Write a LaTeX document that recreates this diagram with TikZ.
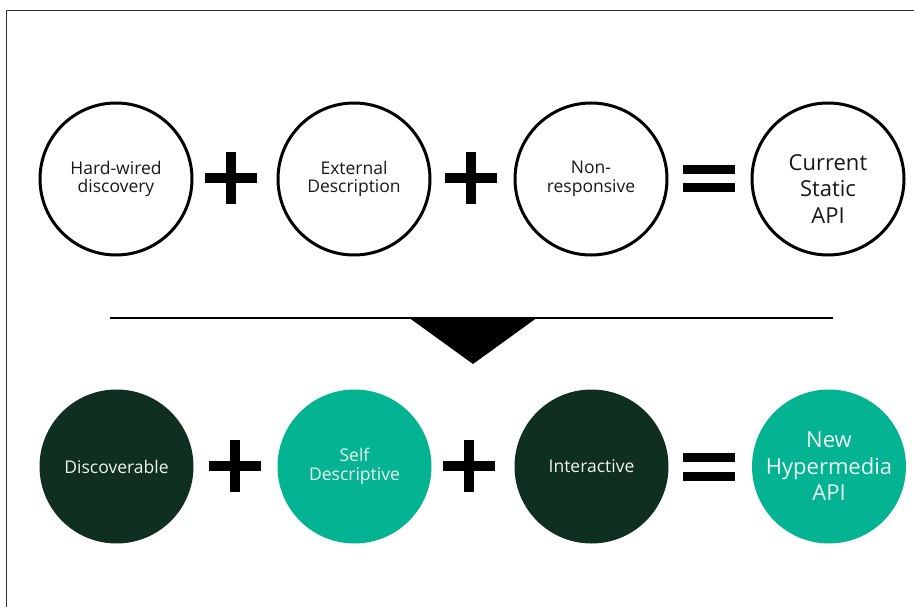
\documentclass[tikz,border=0pt]{standalone}
\usepackage{fontspec}
\setmainfont{Open Sans}
\definecolor{darkgreen}{HTML}{0F3020}
\definecolor{teal}{HTML}{03B391}
\definecolor{inktext}{HTML}{1A1718}
\definecolor{lighttext}{HTML}{EEF4F0}
\begin{document}
\begin{tikzpicture}[x=1pt,y=-1pt,
  ring/.style={circle, draw=black, line width=3pt, minimum size=152pt, inner sep=0pt, align=center, text=inktext, font=\fontsize{17.5}{18.5}\selectfont},
  bigtext/.style={font=\fontsize{22}{26.5}\selectfont},
  darkdisc/.style={circle, fill=darkgreen, minimum size=154pt, inner sep=0pt, align=center, text=lighttext, font=\fontsize{17.5}{18.5}\selectfont},
  tealdisc/.style={circle, fill=teal, minimum size=154pt, inner sep=0pt, align=center, text=lighttext, font=\fontsize{17.5}{18.5}\selectfont},
  pics/plussign/.style={code={\fill (-26,-5) rectangle (26,5); \fill (-5,-26) rectangle (5,26);}},
  pics/equalsign/.style={code={\fill (-26,-14) rectangle (26,-5); \fill (-26,4.5) rectangle (26,13.5);}}
]
\useasboundingbox (0,0) rectangle (914,607);
\fill[white] (0,0) rectangle (914,607);
\draw[line width=1pt, black!80] (6.5,607) -- (6.5,10.5) -- (914,10.5);

% top row
\node[ring] (hw) at (116,179) {Hard-wired\\discovery};
\node[ring] (ed) at (354,179) {External\\Description};
\node[ring] (nr) at (591,179) {Non-\\responsive};
\node[ring, bigtext, text depth=0pt] (cs) at (828,179) {\raisebox{10pt}{\begin{tabular}{@{}c@{}}Current\\Static\\API\end{tabular}}};
\pic at (231,178) {plussign};
\pic at (471,178) {plussign};
\pic at (709,179) {equalsign};

% divider
\coordinate (la) at (110,318);
\coordinate (lb) at (833,318);
\draw[line width=2pt] (la) -- (lb);
\fill (408,317) -- (538,317) -- (473,364) -- cycle;

% bottom row
\node[darkdisc] (dc) at (116.5,466.5) {Discoverable};
\node[tealdisc] (sd) at (354.5,466.5) {Self\\Descriptive};
\node[darkdisc] (ia) at (591.5,466.5) {Interactive};
\node[tealdisc, bigtext] (nh) at (829,466.5) {New\\Hypermedia\\API};
\pic at (235,466) {plussign};
\pic at (469,466) {plussign};
\pic at (709,467) {equalsign};
\end{tikzpicture}
\end{document}
